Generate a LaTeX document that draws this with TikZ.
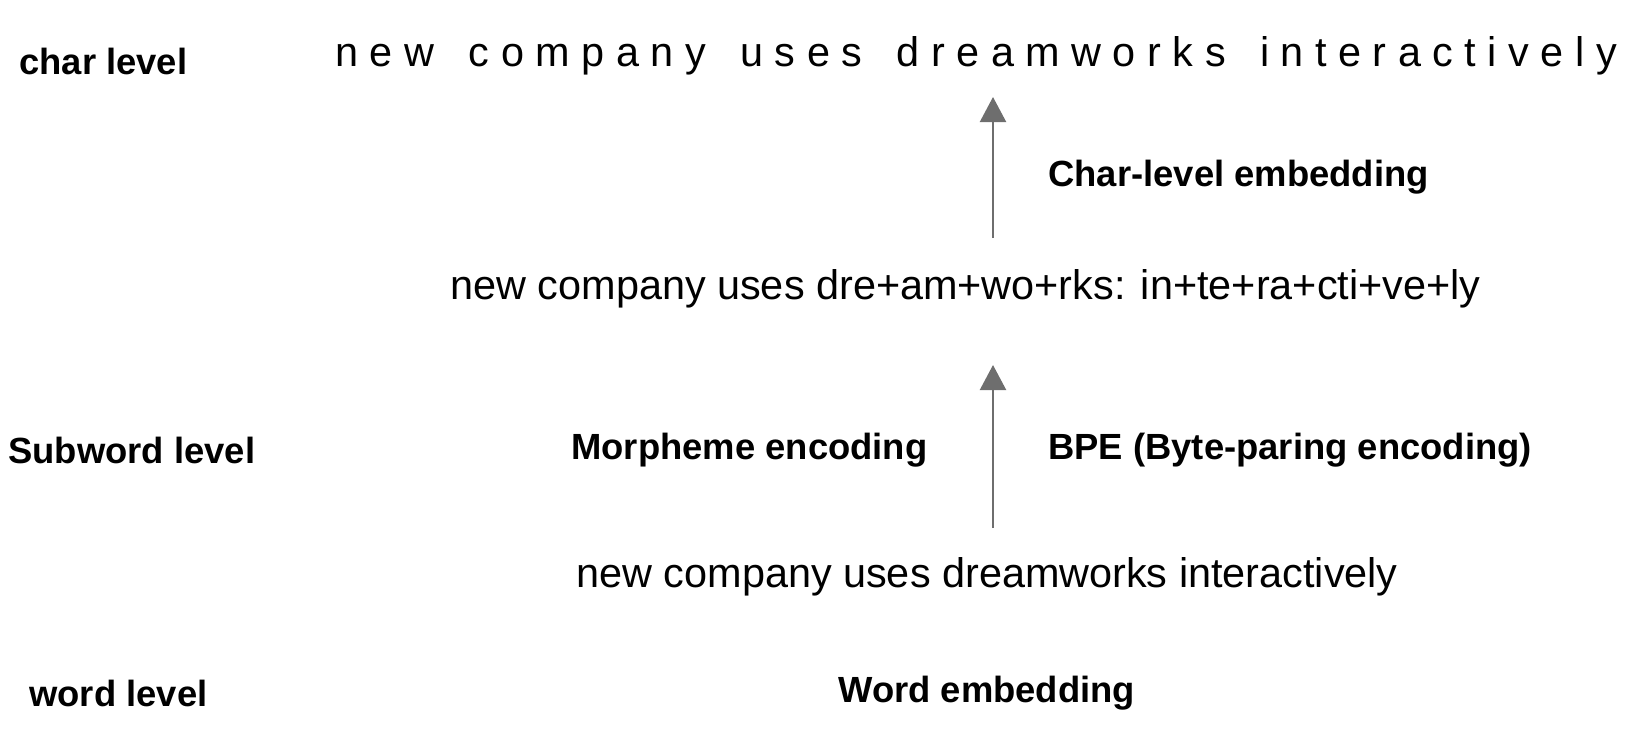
\documentclass[tikz,border=0pt]{standalone}
\usepackage{fontspec}
\setmainfont{Liberation Sans}
\usetikzlibrary{arrows.meta}
\definecolor{arrgray}{HTML}{6E6E6E}
\begin{document}
\begin{tikzpicture}[x=0.5pt,y=-0.5pt,
  lbl/.style={anchor=west,inner sep=0pt,font=\fontsize{18.2}{22}\selectfont\bfseries},
  txt/.style={anchor=west,inner sep=0pt,font=\fontsize{20.7}{25}\selectfont},
  arr/.style={draw=arrgray,line width=1.1pt,-{Triangle[width=13pt,length=12.5pt]},arrgray}]
\useasboundingbox (0,0) rectangle (1640,752);
% level labels
\node[lbl] (charlvl) at (19,61) {char level};
\node[lbl] (subwlvl) at (8,450) {Subword level};
\node[lbl] (wordlvl) at (29,693) {word level};
% texts
\node[txt] (top) at (335,56) {n e w\ \ \ c o m p a n y\ \ \ u s e s\ \ \ d r e a m w o r k s\ \ \ i n t e r a c t i v e l y};
\node[txt] (mid) at (450,289) {new company uses dre+am+wo+rks: in+te+ra+cti+ve+ly};
\node[txt] (bot) at (576,577) {new company uses dreamworks interactively};
% method labels
\node[lbl] (charemb) at (1048,177) {Char-level embedding};
\node[lbl] (morph) at (571,450) {Morpheme encoding};
\node[lbl] (bpe) at (1048,450) {BPE (Byte-paring encoding)};
\node[lbl] (wordemb) at (838,693) {Word embedding};
% arrows
\coordinate (a1s) at (993,238);
\coordinate (a1e) at (993,97);
\coordinate (a2s) at (993,528);
\coordinate (a2e) at (993,365);
\draw[arr] (a1s) -- (a1e);
\draw[arr] (a2s) -- (a2e);
\end{tikzpicture}
\end{document}
